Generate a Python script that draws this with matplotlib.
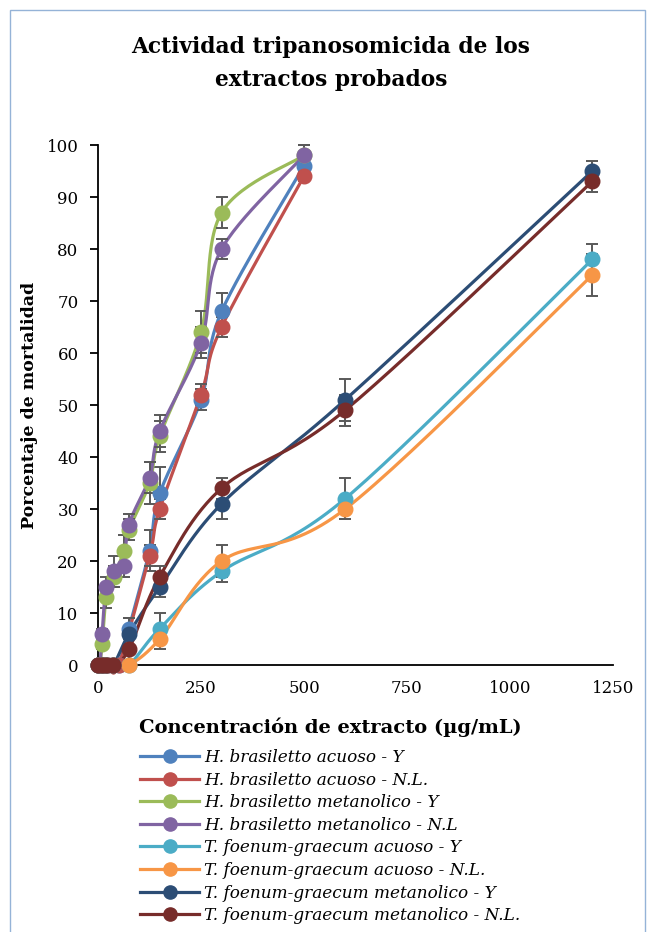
import numpy as np
import matplotlib
matplotlib.use("Agg")
import matplotlib.pyplot as plt
from matplotlib.lines import Line2D
from matplotlib.patches import Rectangle

# ---------------- data ----------------
title_lines = ["Actividad tripanosomicida de los", "extractos probados"]
xlabel = "Concentración de extracto (µg/mL)"
ylabel = "Porcentaje de mortalidad"
xticks = [0, 250, 500, 750, 1000, 1250]
yticks = [0, 10, 20, 30, 40, 50, 60, 70, 80, 90, 100]

labels = [
    "H. brasiletto acuoso - Y",
    "H. brasiletto acuoso - N.L.",
    "H. brasiletto metanolico - Y",
    "H. brasiletto metanolico - N.L",
    "T. foenum-graecum acuoso - Y",
    "T. foenum-graecum acuoso - N.L.",
    "T. foenum-graecum metanolico - Y",
    "T. foenum-graecum metanolico - N.L.",
]
colors = ["#4F81BD", "#C0504D", "#9BBB59", "#8064A2",
          "#4BACC6", "#F79646", "#2C4D75", "#772C2A"]

hb_acu_y_x = [0, 12.5, 25, 50, 75, 125, 150, 250, 300, 500]
hb_acu_y_v = [0, 0, 0, 0, 7, 22, 33, 51, 68, 96]
hb_acu_y_e = [0, 0, 0, 0, 2, 4, 5, 2, 3.5, 2]

hb_acu_nl_x = [0, 12.5, 25, 50, 125, 150, 250, 300, 500]
hb_acu_nl_v = [0, 0, 0, 0, 21, 30, 52, 65, 94]
hb_acu_nl_e = [0, 0, 0, 0, 2, 2, 2, 2, 1]

hb_met_y_x = [5, 10, 20, 40, 62.5, 75, 125, 150, 250, 300, 500]
hb_met_y_v = [0, 4, 13, 17, 22, 26, 35, 44, 64, 87, 98]
hb_met_y_e = [0, 1, 2, 2, 3, 2, 4, 3, 4, 3, 2]

hb_met_nl_x = [5, 10, 20, 40, 62.5, 75, 125, 150, 250, 300, 500]
hb_met_nl_v = [0, 6, 15, 18, 19, 27, 36, 45, 62, 80, 98]
hb_met_nl_e = [0, 1, 2, 3, 2, 2, 3, 3, 3, 2, 2]

tf_x = [0, 9.4, 18.75, 37.5, 75, 150, 300, 600, 1200]
tf_acu_y_v = [0, 0, 0, 0, 0, 7, 18, 32, 78]
tf_acu_y_e = [0, 0, 0, 0, 0, 3, 2, 4, 3]
tf_acu_nl_v = [0, 0, 0, 0, 0, 5, 20, 30, 75]
tf_acu_nl_e = [0, 0, 0, 0, 0, 2, 3, 2, 4]
tf_met_y_v = [0, 0, 0, 0, 6, 15, 31, 51, 95]
tf_met_y_e = [0, 0, 0, 0, 3, 2, 3, 4, 2]
tf_met_nl_v = [0, 0, 0, 0, 3, 17, 34, 49, 93]
tf_met_nl_e = [0, 0, 0, 0, 2, 2, 2, 3, 2]

series = [
    (hb_acu_y_x, hb_acu_y_v, hb_acu_y_e),
    (hb_acu_nl_x, hb_acu_nl_v, hb_acu_nl_e),
    (hb_met_y_x, hb_met_y_v, hb_met_y_e),
    (hb_met_nl_x, hb_met_nl_v, hb_met_nl_e),
    (tf_x, tf_acu_y_v, tf_acu_y_e),
    (tf_x, tf_acu_nl_v, tf_acu_nl_e),
    (tf_x, tf_met_y_v, tf_met_y_e),
    (tf_x, tf_met_nl_v, tf_met_nl_e),
]

# ---------------- figure ----------------
W, H = 648, 932
fig = plt.figure(figsize=(W / 100, H / 100), dpi=100)
fig.patch.set_facecolor("white")

# chart border (Excel chart area)
fig.add_artist(Rectangle((10 / W, -0.05), (645 - 10) / W, 1.05 - 10 / H,
                         transform=fig.transFigure, fill=False,
                         edgecolor="#95B3D7", lw=1.0))

L, R, T, B = 98, 613, 145, 665
ax = fig.add_axes([L / W, 1 - B / H, (R - L) / W, (B - T) / H])
ax.set_xlim(0, 1250)
ax.set_ylim(0, 100)

serif = "DejaVu Serif"


def smooth(xs, ys, n=30):
    # Excel-like smoothed line: cubic Bezier with Catmull-Rom control points
    # computed in display space
    pts = ax.transData.transform(np.column_stack([xs, ys]))
    out = [pts[0]]
    m = len(pts)
    for i in range(m - 1):
        p0 = pts[i - 1] if i > 0 else pts[i]
        p1 = pts[i]
        p2 = pts[i + 1]
        p3 = pts[i + 2] if i + 2 < m else pts[i + 1]
        c1 = p1 + (p2 - p0) / 6.0
        c2 = p2 - (p3 - p1) / 6.0
        t = np.linspace(0, 1, n)[1:, None]
        seg = ((1 - t) ** 3) * p1 + 3 * ((1 - t) ** 2) * t * c1 \
            + 3 * (1 - t) * t ** 2 * c2 + t ** 3 * p2
        out.extend(seg)
    out = np.array(out)
    return ax.transData.inverted().transform(out)


for (xs, ys, es), c in zip(series, colors):
    curve = smooth(xs, ys)
    ax.plot(curve[:, 0], curve[:, 1], color=c, lw=2.3, clip_on=False,
            solid_capstyle="round", zorder=3)
    ex = [x for x, e in zip(xs, es) if e > 0]
    ey = [y for y, e in zip(ys, es) if e > 0]
    ee = [e for e in es if e > 0]
    ax.errorbar(ex, ey, yerr=ee, fmt="none", ecolor="#595959", elinewidth=1.4,
                capsize=4.5, capthick=1.4, clip_on=False, zorder=3)
    ax.plot(xs, ys, linestyle="none", marker="o", ms=10.5, color=c,
            markeredgecolor=c, clip_on=False, zorder=4)

for side in ["top", "right"]:
    ax.spines[side].set_visible(False)
for side in ["left", "bottom"]:
    ax.spines[side].set_linewidth(1.3)
    ax.spines[side].set_color("black")
ax.spines["bottom"].set_zorder(2)

ax.set_xticks(xticks)
ax.set_yticks(yticks)
ax.set_xticklabels([str(t) for t in xticks], fontfamily=serif, fontsize=12)
ax.set_yticklabels([str(t) for t in yticks], fontfamily=serif, fontsize=12)
ax.tick_params(axis="x", length=0, pad=11)
ax.tick_params(axis="y", length=6, width=1.3, direction="out", pad=8)

fig.text(330 / W, 1 - 727 / H, xlabel, ha="center", va="center",
         fontfamily=serif, fontweight="bold", fontsize=14)
fig.text(30 / W, 1 - 405 / H, ylabel, ha="center", va="center", rotation=90,
         fontfamily=serif, fontweight="bold", fontsize=12.5)

fig.text(331 / W, 1 - 47 / H, title_lines[0], ha="center", va="center",
         fontfamily=serif, fontweight="bold", fontsize=15.7)
fig.text(331 / W, 1 - 80 / H, title_lines[1], ha="center", va="center",
         fontfamily=serif, fontweight="bold", fontsize=15.7)

handles = [Line2D([], [], color=c, lw=2.3, marker="o", ms=9.5,
                  markeredgecolor=c) for c in colors]
fig.legend(handles, labels, loc="upper left",
           bbox_to_anchor=(140 / W, 1 - 749 / H), frameon=False,
           prop={"family": serif, "style": "italic", "size": 12.2},
           handlelength=3.5, handletextpad=0.3, labelspacing=0.33,
           borderaxespad=0, borderpad=0)

fig.savefig("out.png", dpi=100, facecolor="white")
